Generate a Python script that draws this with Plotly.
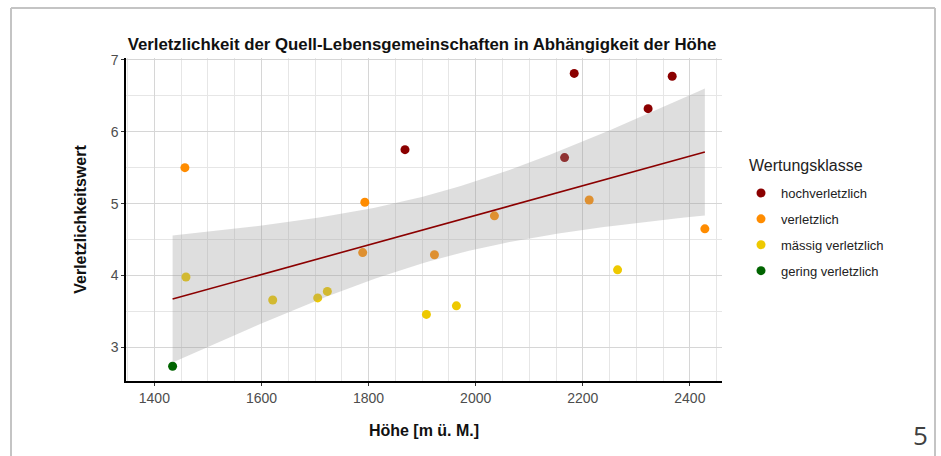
import numpy as np
import plotly.graph_objects as go

# ---- data ----
classes = ["hochverletzlich", "verletzlich", "mässig verletzlich", "gering verletzlich"]
class_colors = ["#8B0000", "#FF8C00", "#EEC900", "#006400"]

hoch_x = [1868, 2184, 2367, 2322, 2166]
hoch_y = [5.75, 6.81, 6.77, 6.32, 5.64]

verl_x = [1457, 1793, 2212, 2035, 2428, 1789, 1923]
verl_y = [5.50, 5.02, 5.05, 4.83, 4.65, 4.32, 4.29]

maes_x = [1459, 1621, 1705, 1723, 1908, 1964, 2265]
maes_y = [3.98, 3.66, 3.69, 3.78, 3.46, 3.58, 4.08]

ger_x = [1434]
ger_y = [2.74]

x_ticks = [1400, 1600, 1800, 2000, 2200, 2400]
y_ticks = [3, 4, 5, 6, 7]

series_x = [hoch_x, verl_x, maes_x, ger_x]
series_y = [hoch_y, verl_y, maes_y, ger_y]

# ---- linear model with 95% confidence band ----
ax = np.array(sum(series_x, []), dtype=float)
ay = np.array(sum(series_y, []), dtype=float)
n = len(ax)
slope, intercept = np.polyfit(ax, ay, 1)
resid = ay - (intercept + slope * ax)
s = np.sqrt(np.sum(resid ** 2) / (n - 2))
xbar = ax.mean()
sxx = np.sum((ax - xbar) ** 2)
t975 = 2.100922  # t quantile, df = 18
xs = np.linspace(ax.min(), ax.max(), 80)
fit = intercept + slope * xs
se = s * np.sqrt(1.0 / n + (xs - xbar) ** 2 / sxx)
lo = fit - t975 * se
hi = fit + t975 * se

fig = go.Figure()

for i, (name, col) in enumerate(zip(classes, class_colors)):
    fig.add_trace(go.Scatter(
        x=series_x[i], y=series_y[i], mode="markers", name=name,
        legendgroup=name,
        marker=dict(color=col, size=9, line=dict(width=0)),
    ))

fig.add_trace(go.Scatter(x=xs, y=lo, mode="lines", line=dict(width=0),
                         showlegend=False, hoverinfo="skip"))
fig.add_trace(go.Scatter(x=xs, y=hi, mode="lines", line=dict(width=0),
                         fill="tonexty", fillcolor="rgba(153,153,153,0.32)",
                         showlegend=False, hoverinfo="skip"))
fig.add_trace(go.Scatter(x=xs, y=fit, mode="lines",
                         line=dict(color="#8B0000", width=1.6),
                         showlegend=False))

font_main = "Liberation Sans, Arial, sans-serif"

fig.update_layout(
    width=941, height=456,
    margin=dict(l=126, r=219, t=58, b=75),
    paper_bgcolor="white", plot_bgcolor="white",
    font=dict(family=font_main, color="#222222"),
    title=dict(text="<b>Verletzlichkeit der Quell-Lebensgemeinschaften in Abhängigkeit der Höhe</b>",
               x=422 / 941, xref="container", xanchor="center", y=1 - 44 / 456, yref="container",
               yanchor="middle", font=dict(size=16.8, color="#111111")),
    showlegend=True,
    legend=dict(
        font=dict(size=13, color="#222222"),
        x=741 / 941, xref="container", xanchor="left",
        y=1 - 178 / 456, yref="container", yanchor="top",
        tracegroupgap=6,
        bgcolor="rgba(0,0,0,0)",
    ),
    xaxis=dict(
        range=[1347, 2460],
        tickmode="array", tickvals=x_ticks,
        ticks="outside", ticklen=3, tickcolor="#333333",
        tickfont=dict(size=14, color="#4D4D4D"),
        showgrid=True, gridcolor="#D6D6D6", gridwidth=1,
        minor=dict(dtick=50, tick0=1400, showgrid=True, gridcolor="#E6E6E6", gridwidth=1),
        showline=True, linecolor="#000000", linewidth=1.5,
        zeroline=False,
        title=dict(text="<b>Höhe [m ü. M.]</b>", font=dict(size=16, color="#111111"), standoff=20),
    ),
    yaxis=dict(
        range=[2.535, 7.024],
        tickmode="array", tickvals=y_ticks,
        ticks="outside", ticklen=3, tickcolor="#333333",
        tickfont=dict(size=14, color="#4D4D4D"),
        showgrid=True, gridcolor="#D6D6D6", gridwidth=1,
        minor=dict(dtick=0.5, tick0=3, showgrid=True, gridcolor="#E6E6E6", gridwidth=1),
        showline=True, linecolor="#000000", linewidth=1.5,
        zeroline=False,
        title=dict(text="<b>Verletzlichkeitswert</b>", font=dict(size=16, color="#111111"), standoff=20),
    ),
)

# legend title
fig.add_annotation(text="Wertungsklasse", xref="paper", yref="paper",
                   x=(747 - 126) / 596, y=(381 - 165) / 323,
                   xanchor="left", yanchor="middle", showarrow=False,
                   font=dict(size=16, color="#222222"))

# slide frame
fx0 = (11 - 126) / 596
fx1 = (935 - 126) / 596
fy_top = (381 - 8) / 323
fy_bot = (381 - 470) / 323
frame = dict(type="line", xref="paper", yref="paper",
             line=dict(color="#C4C4C4", width=2), layer="above")
fig.add_shape(x0=fx0, x1=fx1, y0=fy_top, y1=fy_top, **frame)
fig.add_shape(x0=fx0, x1=fx0, y0=fy_top, y1=fy_bot, **frame)
fig.add_shape(x0=fx1, x1=fx1, y0=fy_top, y1=fy_bot, **frame)

# slide number
fig.add_annotation(text="5", xref="paper", yref="paper",
                   x=(920 - 126) / 596, y=(381 - 455) / 323,
                   xanchor="center", yanchor="bottom", showarrow=False,
                   font=dict(family="Open Sans, Noto Sans, sans-serif", size=26, color="#404040"))

fig.write_html("out.html", config={"displayModeBar": False},
               post_script="document.body.style.margin='0px';")
